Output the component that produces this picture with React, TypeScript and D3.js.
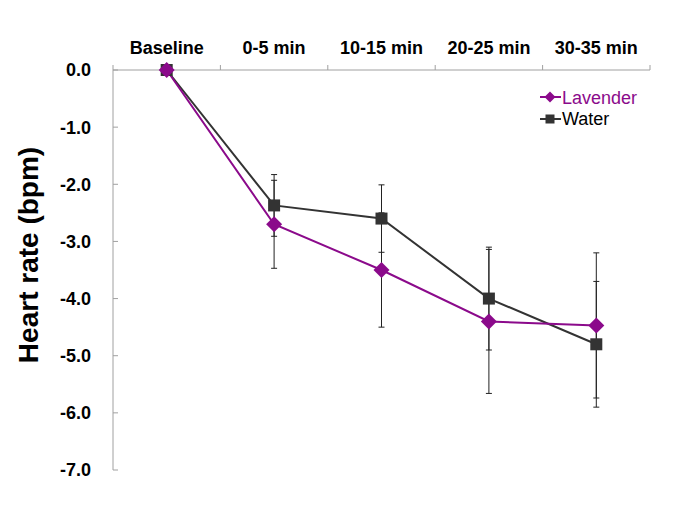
import React from "react";
import * as d3 from "d3";

const categories = ["Baseline", "0-5 min", "10-15 min", "20-25 min", "30-35 min"];
const lavender = [0, -2.7, -3.5, -4.4, -4.47];
const lavenderErr = [0, 0.77, 1.0, 1.26, 1.27];
const water = [0, -2.37, -2.6, -4.0, -4.8];
const waterErr = [0, 0.54, 0.59, 0.9, 1.1];
const yTicks = [0, -1, -2, -3, -4, -5, -6, -7];

const W = 685, H = 513;
const left = 113, right = 650, top = 70, bottom = 470;

export default function App() {
  const x = d3.scaleBand<string>().domain(categories).range([left, right]);
  const y = d3.scaleLinear().domain([0, -7]).range([top, bottom]);
  const cx = (c: string) => (x(c) as number) + x.bandwidth() / 2;
  const line = d3.line<number>().x((_, i) => cx(categories[i])).y((v) => y(v));
  const axisColor = "#a0a0a0";
  const purple = "#8b0a8b";
  const dark = "#333333";
  const font = "'Liberation Sans', Arial, sans-serif";

  const errBars = (vals: number[], errs: number[], key: string) =>
    vals.map((v, i) => {
      if (errs[i] === 0) return null;
      const px = cx(categories[i]);
      const y1 = y(v + errs[i]);
      const y2 = y(v - errs[i]);
      return (
        <g key={key + i} stroke="#222" strokeWidth={1}>
          <line x1={px} x2={px} y1={y1} y2={y2} />
          <line x1={px - 3} x2={px + 3} y1={y1} y2={y1} />
          <line x1={px - 3} x2={px + 3} y1={y2} y2={y2} />
        </g>
      );
    });

  const diamond = (px: number, py: number, k: string, s = 8) => (
    <path key={k} d={`M${px},${py - s}L${px + s},${py}L${px},${py + s}L${px - s},${py}Z`} fill={purple} />
  );
  const square = (px: number, py: number, k: string, s = 6) => (
    <rect key={k} x={px - s} y={py - s} width={2 * s} height={2 * s} fill={dark} />
  );

  return (
    <svg width={W} height={H} style={{ display: "block", margin: "-8px" }} fontFamily={font}>
      <rect width={W} height={H} fill="#fff" />
      {/* axes */}
      <line x1={left} x2={right} y1={top} y2={top} stroke={axisColor} />
      <line x1={left} x2={left} y1={top} y2={bottom} stroke={axisColor} />
      {x.domain().map((c, i) => (
        <line key={"xt" + i} x1={x(c) as number} x2={x(c) as number} y1={top} y2={top - 5} stroke={axisColor} />
      ))}
      <line x1={right} x2={right} y1={top} y2={top - 5} stroke={axisColor} />
      {yTicks.map((t) => (
        <g key={"yt" + t}>
          <line x1={left} x2={left + 5} y1={y(t)} y2={y(t)} stroke={axisColor} />
          <text x={91} y={y(t)} dy="0.36em" textAnchor="end" fontSize={18} fontWeight="bold" fill="#000">
            {t.toFixed(1)}
          </text>
        </g>
      ))}
      {categories.map((c) => (
        <text key={"xl" + c} x={cx(c)} y={54} textAnchor="middle" fontSize={18} fontWeight="bold" fill="#000">
          {c}
        </text>
      ))}
      <text
        transform={`translate(38,255) rotate(-90)`}
        textAnchor="middle"
        fontSize={28}
        fontWeight="bold"
        fill="#000"
      >
        Heart rate (bpm)
      </text>
      {/* error bars */}
      {errBars(water, waterErr, "we")}
      {errBars(lavender, lavenderErr, "le")}
      {/* lines */}
      <path d={line(water) || ""} fill="none" stroke={dark} strokeWidth={2} />
      <path d={line(lavender) || ""} fill="none" stroke={purple} strokeWidth={2} />
      {water.map((v, i) => square(cx(categories[i]), y(v), "ws" + i))}
      {lavender.map((v, i) => diamond(cx(categories[i]), y(v), "ld" + i))}
      {/* legend */}
      <g>
        <line x1={540} x2={561} y1={97} y2={97} stroke={purple} strokeWidth={2} />
        {diamond(550, 97, "lg1", 5.5)}
        <text x={562} y={98} dy="0.36em" fontSize={18} fill={purple}>Lavender</text>
        <line x1={540} x2={561} y1={119} y2={119} stroke={dark} strokeWidth={2} />
        {square(550, 119, "lg2", 4.5)}
        <text x={562} y={119} dy="0.36em" fontSize={18} fill="#000">Water</text>
      </g>
    </svg>
  );
}
